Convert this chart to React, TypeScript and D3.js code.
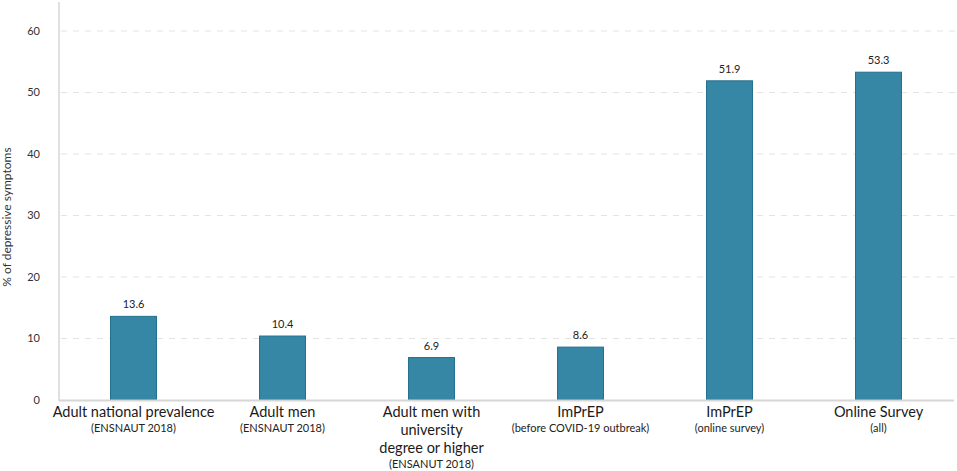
import { useEffect, useRef } from 'react';
import * as d3 from 'd3';

const categories = [
  ['Adult national prevalence'],
  ['Adult men'],
  ['Adult men with', 'university', 'degree or higher'],
  ['ImPrEP'],
  ['ImPrEP'],
  ['Online Survey'],
];
const subtitles = [
  '(ENSNAUT 2018)',
  '(ENSNAUT 2018)',
  '(ENSANUT 2018)',
  '(before COVID-19 outbreak)',
  '(online survey)',
  '(all)',
];
const values = [13.6, 10.4, 6.9, 8.6, 51.9, 53.3];
const yTicks = [0, 10, 20, 30, 40, 50, 60];

const W = 957;
const H = 471;
const FONT = 'Lato, "Noto Sans", sans-serif';

export default function App() {
  const svgRef = useRef<SVGSVGElement>(null);

  useEffect(() => {
    if (!svgRef.current) return;
    const svg = d3.select(svgRef.current);
    svg.selectAll('*').remove();

    const left = 59;
    const right = 953;
    const top = 2;
    const bottom = 400;

    const x = d3.scaleBand<number>()
      .domain(d3.range(values.length))
      .range([left, right])
      .paddingInner(0.685)
      .paddingOuter(0.3425);

    const y = d3.scaleLinear().domain([0, 60]).range([bottom, 31]);

    // grid lines
    svg.append('g')
      .selectAll('line')
      .data(yTicks.filter(t => t > 0))
      .join('line')
      .attr('x1', left + 2)
      .attr('x2', W)
      .attr('y1', d => y(d))
      .attr('y2', d => y(d))
      .attr('stroke', '#e3e3e3')
      .attr('stroke-width', 1)
      .attr('stroke-dasharray', '6,6');

    // tick labels
    svg.append('g')
      .selectAll('text')
      .data(yTicks)
      .join('text')
      .attr('x', 40)
      .attr('y', d => y(d))
      .attr('dy', '0.35em')
      .attr('text-anchor', 'end')
      .attr('font-family', FONT)
      .attr('font-size', 11)
      .attr('fill', '#333')
      .text(d => d);

    // y axis title
    svg.append('text')
      .attr('transform', `translate(11, ${(top + bottom) / 2 + 16}) rotate(-90)`)
      .attr('text-anchor', 'middle')
      .attr('font-family', FONT)
      .attr('font-size', 12)
      .attr('fill', '#333')
      .text('% of depressive symptoms');

    // bars
    svg.append('g')
      .selectAll('rect')
      .data(values)
      .join('rect')
      .attr('x', (_, i) => x(i)! + 0.5)
      .attr('y', d => y(d))
      .attr('width', x.bandwidth() - 1)
      .attr('height', d => bottom - y(d))
      .attr('fill', '#3687a5')
      .attr('stroke', '#236f8d')
      .attr('stroke-width', 1);

    // axis lines
    svg.append('line')
      .attr('x1', left).attr('x2', left)
      .attr('y1', top).attr('y2', bottom + 1)
      .attr('stroke', '#d6d6d6').attr('stroke-width', 1.5);
    svg.append('line')
      .attr('x1', left).attr('x2', W - 3)
      .attr('y1', bottom + 0.5).attr('y2', bottom + 0.5)
      .attr('stroke', '#d6d6d6').attr('stroke-width', 2);

    // value labels
    svg.append('g')
      .selectAll('text')
      .data(values)
      .join('text')
      .attr('x', (_, i) => x(i)! + x.bandwidth() / 2)
      .attr('y', d => y(d) - 8)
      .attr('text-anchor', 'middle')
      .attr('font-family', FONT)
      .attr('font-size', 11)
      .attr('fill', '#222')
      .text(d => d.toFixed(1));

    // category labels
    const cat = svg.append('g')
      .selectAll('g')
      .data(categories)
      .join('g')
      .attr('transform', (_, i) => `translate(${x(i)! + x.bandwidth() / 2}, 0)`);

    cat.each(function (lines, i) {
      const g = d3.select(this);
      lines.forEach((line, j) => {
        g.append('text')
          .attr('y', 417 + j * 18)
          .attr('text-anchor', 'middle')
          .attr('font-family', FONT)
          .attr('font-size', 14.5)
          .attr('fill', '#1a1a1a')
          .text(line);
      });
      g.append('text')
        .attr('y', 417 + (lines.length - 1) * 18 + 15)
        .attr('text-anchor', 'middle')
        .attr('font-family', FONT)
        .attr('font-size', 11)
        .attr('fill', '#222')
        .text(subtitles[i]);
    });
  }, []);

  return (
    <svg
      ref={svgRef}
      width={W}
      height={H}
      style={{ position: 'absolute', left: 0, top: 0, background: '#fff' }}
    />
  );
}
